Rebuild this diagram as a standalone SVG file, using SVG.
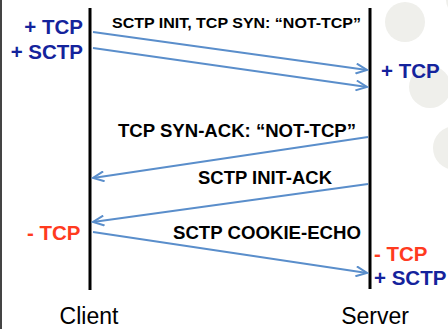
<svg xmlns="http://www.w3.org/2000/svg" width="448" height="329" viewBox="0 0 448 329">
<style>
.lbl{font-family:"Liberation Sans",Arial,sans-serif;font-weight:bold;fill:#000}
.st{font-family:"Liberation Sans",Arial,sans-serif;font-weight:bold;font-size:20.5px}
.plus{fill:#14239c}
.minus{fill:#ff3b1f}
.name{font-family:"Liberation Sans",Arial,sans-serif;font-size:23px;fill:#000;text-anchor:middle}
.msg{stroke:#5a8ecb;stroke-width:2;fill:none}
.life{stroke:#000;stroke-width:3}
.deco{fill:#efefeb}
</style>
<defs>
<marker id="ah" markerUnits="userSpaceOnUse" markerWidth="14" markerHeight="12" refX="12" refY="6" orient="auto">
<path d="M1,1 L12,6 L1,11" fill="none" stroke="#5a8ecb" stroke-width="2" stroke-linejoin="miter"/>
</marker>
</defs>
<rect width="448" height="329" fill="#fff"/>
<g id="decor">
<circle class="deco" cx="405" cy="22" r="20"/>
<circle class="deco" cx="430" cy="87" r="21"/>
<circle class="deco" cx="455" cy="148" r="22"/>
<circle class="deco" cx="462" cy="0" r="16"/>
</g>
<line x1="1" y1="0" x2="1" y2="329" stroke="#444" stroke-width="2"/>
<g id="client">
<line class="life" x1="90" y1="8" x2="90" y2="290"/>
<text class="name" x="89" y="324">Client</text>
<text class="st plus" x="83" y="34" text-anchor="end">+ TCP</text>
<text class="st plus" x="83" y="59" text-anchor="end">+ SCTP</text>
<text class="st minus" x="27" y="240">- TCP</text>
</g>
<g id="server">
<line class="life" x1="370" y1="8" x2="370" y2="289"/>
<text class="name" x="375" y="324">Server</text>
<text class="st plus" x="381" y="78">+ TCP</text>
<text class="st minus" x="374" y="261">- TCP</text>
<text class="st plus" x="374" y="285">+ SCTP</text>
</g>
<g id="connectors">
<line class="msg" x1="93" y1="32" x2="367" y2="70" marker-end="url(#ah)"/>
<line class="msg" x1="93" y1="48" x2="367" y2="87" marker-end="url(#ah)"/>
<line class="msg" x1="368" y1="137" x2="93" y2="178" marker-end="url(#ah)"/>
<line class="msg" x1="368" y1="184" x2="93" y2="222" marker-end="url(#ah)"/>
<line class="msg" x1="93" y1="232" x2="367" y2="273" marker-end="url(#ah)"/>
<text class="lbl" x="112" y="28" font-size="15" textLength="249" lengthAdjust="spacingAndGlyphs">SCTP INIT, TCP SYN: “NOT-TCP”</text>
<text class="lbl" x="118" y="137" font-size="17.5" textLength="238" lengthAdjust="spacingAndGlyphs">TCP SYN-ACK: “NOT-TCP”</text>
<text class="lbl" x="198" y="184" font-size="17.5" textLength="134" lengthAdjust="spacingAndGlyphs">SCTP INIT-ACK</text>
<text class="lbl" x="173" y="239" font-size="17.5" textLength="188" lengthAdjust="spacingAndGlyphs">SCTP COOKIE-ECHO</text>
</g>
</svg>
